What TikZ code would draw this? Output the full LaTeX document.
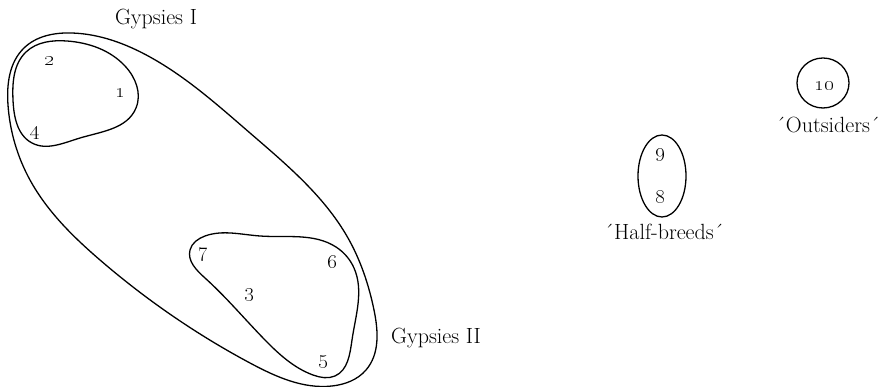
\documentclass[tikz,border=0pt]{standalone}
\usetikzlibrary{hobby}
\tikzset{
  loopline/.style={draw=black, line width=1.3pt, line join=round},
  num/.style={inner sep=0pt, font=\fontsize{20}{22}\selectfont},
  lbl/.style={inner sep=0pt, anchor=base, font=\fontsize{22}{24}\selectfont},
}
\begin{document}
\begin{tikzpicture}[x=1pt,y=-1pt]
\useasboundingbox (0,0) rectangle (888,387);
% outer loop Gypsies
\draw[loopline] plot[closed hobby] coordinates {
 (72,33) (150,57) (250,133) (348,238) (374,310) (366,370) (332,386) (250,363)
 (100,260) (30,180) (8,105) (24,48)};
% inner loop 1
\draw[loopline] plot[closed hobby] coordinates {
 (67,41) (125,66) (136,108) (80,138) (32,143) (13,100) (26,52)};
% inner loop 2
\draw[loopline] plot[closed hobby] coordinates {
 (205,236) (260,236) (336,247) (354,268) (352,340) (335,376) (313,375)
 (265,340) (205,278) (190,250)};
% half-breeds ellipse and outsiders circle
\draw[loopline] (662,176) ellipse [x radius=24, y radius=41];
\draw[loopline] (823,83) ellipse [x radius=26, y radius=25];

\node[num] (n2) at (49,61) {\oldstylenums{2}};
\node[num] (n1) at (120,93) {\oldstylenums{1}};
\node[num] (n4) at (35,133) {\oldstylenums{4}};
\node[num] (n7) at (203,255) {\oldstylenums{7}};
\node[num] (n6) at (332,262) {\oldstylenums{6}};
\node[num] (n3) at (249,295) {\oldstylenums{3}};
\node[num] (n5) at (323,362) {\oldstylenums{5}};
\node[num] (n9) at (660,155) {\oldstylenums{9}};
\node[num] (n8) at (660,197) {\oldstylenums{8}};
\node[num] (n10) at (824,86) {\oldstylenums{10}};

\node[lbl] (g1) at (156,25) {Gypsies I};
\node[lbl] (g2) at (436,343) {Gypsies II};
\node[lbl] (hb) at (664,240) {´Half-breeds´};
\node[lbl] (out) at (828,133) {´Outsiders´};
\end{tikzpicture}
\end{document}
